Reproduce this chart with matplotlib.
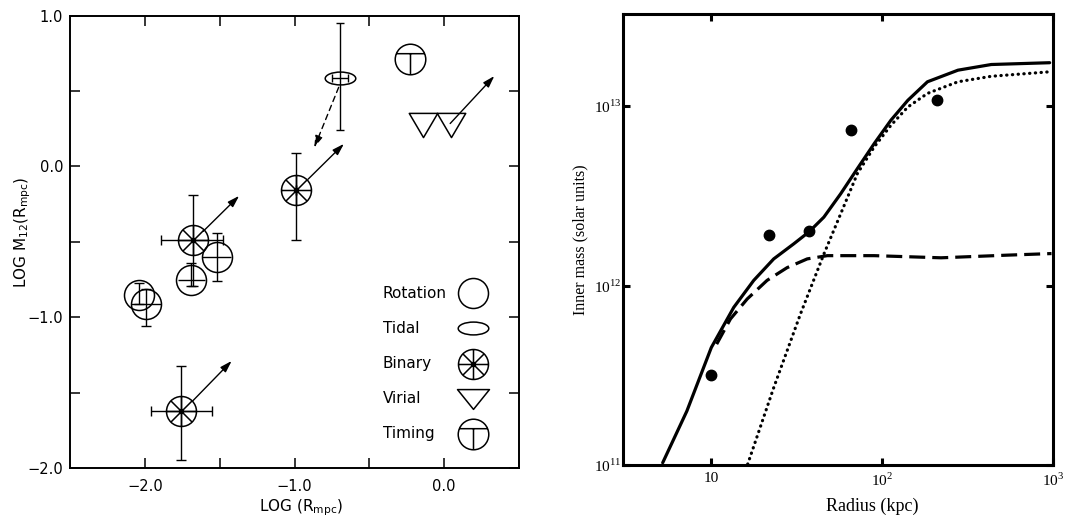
import matplotlib.pyplot as plt
from matplotlib.path import Path

# left panel: log M12 against log R (Mpc)
rot_x = [-2.04, -1.99, -1.69, -1.52]
rot_y = [-0.85, -0.91, -0.75, -0.60]
rot_yerr_lo = [0.06, 0.15, 0.04, 0.16]
rot_yerr_hi = [0.08, 0.10, 0.11, 0.16]
rot_xerr = [0.0, 0.10, 0.09, 0.095]

bin_x = [-1.68, -0.99, -1.76]
bin_y = [-0.49, -0.155, -1.625]
bin_yerr_lo = [0.30, 0.33, 0.32]
bin_yerr_hi = [0.30, 0.245, 0.30]
bin_xerr_lo = [0.21, 0.0, 0.20]
bin_xerr_hi = [0.20, 0.0, 0.21]

tid_x = [-0.695]
tid_y = [0.585]
tid_yerr_lo = [0.345]
tid_yerr_hi = [0.37]
tid_xerr = [0.055]

tim_x = [-0.23]
tim_y = [0.71]

vir_x = [-0.14, 0.045]
vir_y = [0.275, 0.275]

# arrows, tail -> head
arr_x0 = [-1.61, -0.91, -1.68, 0.04]
arr_y0 = [-0.43, -0.085, -1.555, 0.285]
arr_x1 = [-1.37, -0.67, -1.42, 0.335]
arr_y1 = [-0.195, 0.15, -1.29, 0.60]
dash_tail = (-0.705, 0.525)
dash_head = (-0.868, 0.125)

leg_labels = ["Rotation", "Tidal", "Binary", "Virial", "Timing"]

# right panel: inner mass against radius
pts_r = [10.0, 21.9, 37.6, 66.1, 210]
pts_m = [3.17e11, 1.92e12, 2.01e12, 7.35e12, 1.08e13]

solid_r = [5.22, 7.23, 10.05, 13.6, 17.8, 23.3, 30.5, 37.6, 45.8, 57.4,
           71.9, 90.2, 113, 142, 185, 279, 437, 960]
solid_m = [1.03e11, 2.00e11, 4.52e11, 7.57e11, 1.07e12, 1.41e12, 1.71e12,
           2.00e12, 2.41e12, 3.25e12, 4.49e12, 6.19e12, 8.36e12, 1.08e13,
           1.37e13, 1.59e13, 1.71e13, 1.75e13]

dash_r = [10.8, 13.0, 16.3, 21.3, 27.9, 36.6, 48.0, 90.2, 222, 547, 984]
dash_m = [4.72e11, 6.52e11, 8.43e11, 1.07e12, 1.26e12, 1.41e12, 1.47e12,
          1.47e12, 1.43e12, 1.48e12, 1.51e12]

dot_r = [16.4, 23.3, 33.4, 45.8, 57.4, 71.9, 90.2, 113, 142, 185, 279, 437, 984]
dot_m = [1.01e11, 2.70e11, 6.95e11, 1.50e12, 2.51e12, 4.21e12, 5.93e12,
         7.83e12, 9.91e12, 1.18e13, 1.37e13, 1.47e13, 1.56e13]


# marker shapes
circle = Path.unit_circle()

def with_lines(base, segs):
    parts = [base] + [Path(s, [Path.MOVETO, Path.LINETO]) for s in segs]
    return Path.make_compound_path(*parts)

def triangle(h):
    return Path([(-1, h), (1, h), (0, -h), (-1, h)],
                [Path.MOVETO, Path.LINETO, Path.LINETO, Path.CLOSEPOLY])

m_binary = with_lines(circle, [[(-1, 0), (1, 0)], [(0, -1), (0, 1)],
                               [(-.707, -.707), (.707, .707)],
                               [(-.707, .707), (.707, -.707)]])
m_timing = with_lines(circle, [[(-0.92, 0.38), (0.92, 0.38)], [(0, 0.38), (0, -1)]])
m_tidal = Path(circle.vertices * [1, 0.42], circle.codes)

sans = 'DejaVu Sans'
serif = 'Liberation Serif'

fig = plt.figure(figsize=(10.92, 5.19), dpi=100)
ax = fig.add_axes([0.0641, 0.0983, 0.4112, 0.8714])
ax2 = fig.add_axes([0.5708, 0.1040, 0.3932, 0.8690])

# ---- left
open_kw = dict(ls='none', mfc='none', mec='k', mew=1.1)
err_kw = dict(fmt='none', ecolor='k', elinewidth=1.0, capthick=1.0)

ax.errorbar(rot_x, rot_y, yerr=[rot_yerr_lo, rot_yerr_hi], capsize=3.5, **err_kw)
ax.errorbar(rot_x, rot_y, xerr=rot_xerr, capsize=0, **err_kw)
ax.plot(rot_x, rot_y, marker='o', ms=21.6, **open_kw)

ax.errorbar(bin_x, bin_y, yerr=[bin_yerr_lo, bin_yerr_hi],
            xerr=[bin_xerr_lo, bin_xerr_hi], capsize=3.5, **err_kw)
ax.plot(bin_x, bin_y, marker=m_binary, ms=21.6, **open_kw)
ax.plot(bin_x, bin_y, 'ko', ms=3)

ax.errorbar(tid_x, tid_y, yerr=[tid_yerr_lo, tid_yerr_hi], xerr=tid_xerr,
            capsize=3, **err_kw)
ax.plot(tid_x, tid_y, marker=m_tidal, ms=22, **open_kw)

ax.plot(tim_x, tim_y, marker=m_timing, ms=22, **open_kw)
ax.plot(vir_x, vir_y, marker=triangle(0.85), ms=20.5, **open_kw)

head = '-|>,head_length=0.7,head_width=0.22'
for x0, y0, x1, y1 in zip(arr_x0, arr_y0, arr_x1, arr_y1):
    ax.annotate('', xy=(x1, y1), xytext=(x0, y0),
                arrowprops=dict(arrowstyle=head, color='k', lw=1,
                                shrinkA=0, shrinkB=0))
ax.annotate('', xy=dash_head, xytext=dash_tail,
            arrowprops=dict(arrowstyle=head, color='k', lw=1, ls=(0, (4, 3)),
                            shrinkA=0, shrinkB=0))

leg_marks = [('o', 21.6), (m_tidal, 22), (m_binary, 21.6),
             (triangle(0.62), 23), (m_timing, 22)]
for i, (lab, (mk, ms)) in enumerate(zip(leg_labels, leg_marks)):
    yy = 0.386 - i * 0.0775
    ax.text(0.697, yy, lab, transform=ax.transAxes, va='center',
            fontsize=11, family=sans)
    ax.plot([0.897], [yy], transform=ax.transAxes, marker=mk, ms=ms, **open_kw)
    if lab == "Binary":
        ax.plot([0.897], [yy], 'ko', ms=3, transform=ax.transAxes)

ax.set_xlim(-2.5, 0.5)
ax.set_ylim(-2.0, 1.0)
ax.set_xticks([-2.0, -1.5, -1.0, -0.5, 0.0],
              labels=['\u22122.0', '', '\u22121.0', '', '0.0'])
ax.set_yticks([-2.0, -1.5, -1.0, -0.5, 0.0, 0.5, 1.0],
              labels=['\u22122.0', '', '\u22121.0', '', '0.0', '', '1.0'])
ax.tick_params(direction='in', top=True, right=True, length=7, width=1.1,
               labelsize=10.5)
ax.tick_params(axis='x', pad=8)
ax.tick_params(axis='y', pad=5)
for s in ax.spines.values():
    s.set_linewidth(1.4)
ax.set_xlabel(r'LOG (R$_\mathregular{mpc}$)', fontsize=11, family=sans)
ax.set_ylabel(r'LOG M$_\mathregular{12}$(R$_\mathregular{mpc}$)', fontsize=11, family=sans)
ax.xaxis.set_label_coords(0.514, -0.066)
ax.yaxis.set_label_coords(-0.082, 0.52)

# ---- right
ax2.plot(solid_r, solid_m, color='k', lw=2.3, solid_capstyle='round')
ax2.plot(dash_r, dash_m, color='k', lw=2.3, ls=(0, (5, 2.2)))
ax2.plot(dot_r, dot_m, color='k', lw=2.3, ls=(0, (0.1, 1.7)),
         dash_capstyle='round')
ax2.plot(pts_r, pts_m, 'ko', ms=7.5)

ax2.set_xscale('log')
ax2.set_yscale('log')
ax2.set_xlim(3.07, 1000)
ax2.set_ylim(1e11, 3.27e13)
ax2.set_xticks([10, 100, 1000], labels=['10', r'10$^\mathregular{2}$', r'10$^\mathregular{3}$'])
ax2.set_yticks([1e11, 1e12, 1e13], labels=[r'10$^\mathregular{11}$', r'10$^\mathregular{12}$',
                                           r'10$^\mathregular{13}$'])
ax2.minorticks_off()
ax2.tick_params(direction='in', top=True, right=True, length=5, width=2.2,
                labelsize=11, labelfontfamily=serif)
ax2.tick_params(axis='x', pad=5)
ax2.tick_params(axis='y', pad=1)
for s in ax2.spines.values():
    s.set_linewidth(2.2)
ax2.set_xlabel('Radius (kpc)', fontsize=13, family=serif)
ax2.set_ylabel('Inner mass (solar units)', fontsize=11.5, family=serif)
ax2.xaxis.set_label_coords(0.58, -0.073)
ax2.yaxis.set_label_coords(-0.082, 0.5)

fig.savefig('out.png', dpi=100)
